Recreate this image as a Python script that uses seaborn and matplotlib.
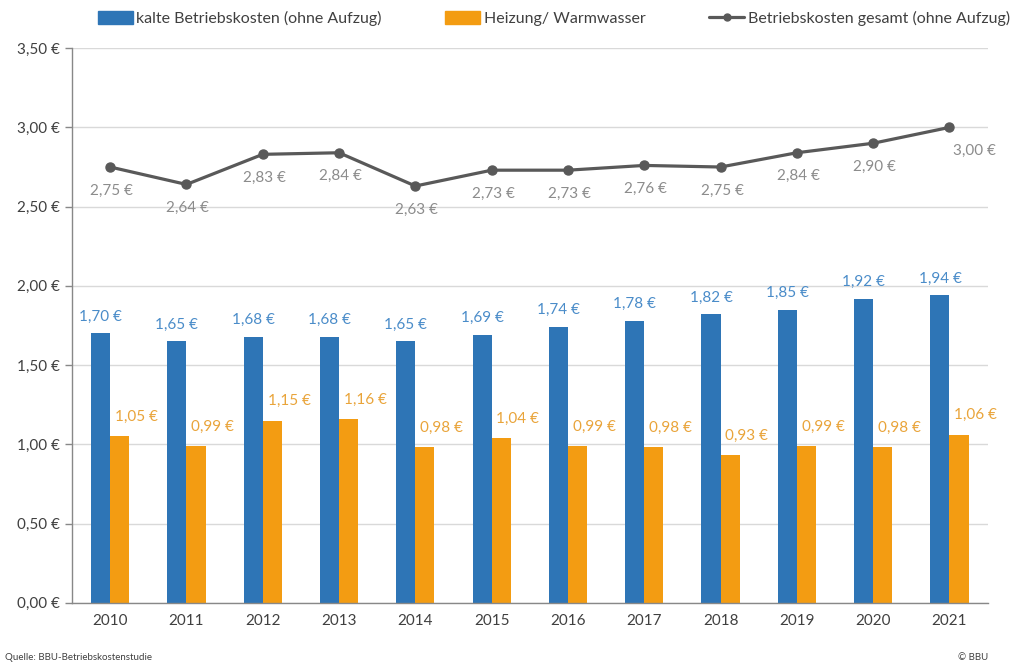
import numpy as np
import pandas as pd
import matplotlib
matplotlib.use("Agg")
import matplotlib.pyplot as plt
import seaborn as sns
from matplotlib.patches import Patch
from matplotlib.lines import Line2D

sns.set_theme(style="white")
plt.rcParams["font.family"] = ["Lato", "DejaVu Sans"]

years = ["2010", "2011", "2012", "2013", "2014", "2015",
         "2016", "2017", "2018", "2019", "2020", "2021"]
kalt = [1.70, 1.65, 1.68, 1.68, 1.65, 1.69, 1.74, 1.78, 1.82, 1.85, 1.92, 1.94]
heizung = [1.05, 0.99, 1.15, 1.16, 0.98, 1.04, 0.99, 0.98, 0.93, 0.99, 0.98, 1.06]
gesamt = [2.75, 2.64, 2.83, 2.84, 2.63, 2.73, 2.73, 2.76, 2.75, 2.84, 2.90, 3.00]

series_names = ["kalte Betriebskosten (ohne Aufzug)", "Heizung/ Warmwasser"]
line_name = "Betriebskosten gesamt (ohne Aufzug)"

BLUE = "#2E75B6"
ORANGE = "#F39C12"
GREY = "#595959"
BLUE_TXT = "#4A8CC9"
ORANGE_TXT = "#E9A43A"
GREY_TXT = "#8C8C8C"


def euro(v):
    return f"{v:.2f} €".replace(".", ",")


df = pd.DataFrame({
    "year": years * 2,
    "value": kalt + heizung,
    "series": [series_names[0]] * len(years) + [series_names[1]] * len(years),
})

fig = plt.figure(figsize=(10.14, 6.69), dpi=100)
ax = fig.add_axes([0.071, 0.099, 0.903, 0.829])

sns.barplot(data=df, x="year", y="value", hue="series",
            palette=[BLUE, ORANGE], width=0.5, gap=0, linewidth=0,
            saturation=1, legend=False, ax=ax)
ax.plot(range(len(years)), gesamt, color=GREY, lw=2.3,
        marker="o", markersize=6.5, zorder=5)

# value labels
for i in range(len(years)):
    ax.annotate(euro(kalt[i]), (i - 0.125, kalt[i]), xytext=(0, 7),
                textcoords="offset points", ha="center", va="bottom",
                fontsize=11, color=BLUE_TXT)
    ax.annotate(euro(heizung[i]), (i + 0.125, heizung[i]), xytext=(12, 14),
                textcoords="offset points", ha="center", va="center",
                fontsize=11, color=ORANGE_TXT)
    dx = 18 if i == len(years) - 1 else 1
    ax.annotate(euro(gesamt[i]), (i, gesamt[i]), xytext=(dx, -17),
                textcoords="offset points", ha="center", va="center",
                fontsize=11, color=GREY_TXT)

ax.set_ylim(0, 3.5)
ax.set_xlim(-0.5, len(years) - 0.5)
yt = np.arange(0, 3.51, 0.5)
ax.set_yticks(yt)
ax.set_yticklabels([euro(v) for v in yt], fontsize=11, color="#404040")
ax.set_xticks(range(len(years)))
ax.set_xticklabels(years, fontsize=11, color="#404040")
ax.set_xticks(np.arange(-0.5, len(years)), minor=True)
ax.tick_params(axis="x", which="major", length=0, pad=8)
ax.tick_params(axis="x", which="minor", length=5, color="#888888", width=1)
ax.tick_params(axis="y", length=5, color="#888888", width=1, left=True, pad=4)
ax.set_xlabel("")
ax.set_ylabel("")
ax.yaxis.grid(True, color="#D9D9D9", lw=1)
ax.set_axisbelow(True)
for s in ["top", "right"]:
    ax.spines[s].set_visible(False)
for s in ["left", "bottom"]:
    ax.spines[s].set_color("#888888")
    ax.spines[s].set_linewidth(1)

handles = [Patch(color=BLUE), Patch(color=ORANGE),
           Line2D([0], [0], color=GREY, lw=2.3, marker="o", markersize=5)]
fig.legend(handles, series_names + [line_name], loc="center",
           bbox_to_anchor=(0.546, 0.972), ncol=3, frameon=False,
           fontsize=11.5, handlelength=2.2, handleheight=0.9,
           handletextpad=0.2, columnspacing=4.0, labelcolor="#404040")

fig.text(0.005, 0.01, "Quelle: BBU-Betriebskostenstudie", fontsize=7,
         color="#404040", ha="left", va="bottom")
fig.text(0.975, 0.01, "© BBU", fontsize=7, color="#404040",
         ha="right", va="bottom")

fig.savefig("out.png", dpi=100)
